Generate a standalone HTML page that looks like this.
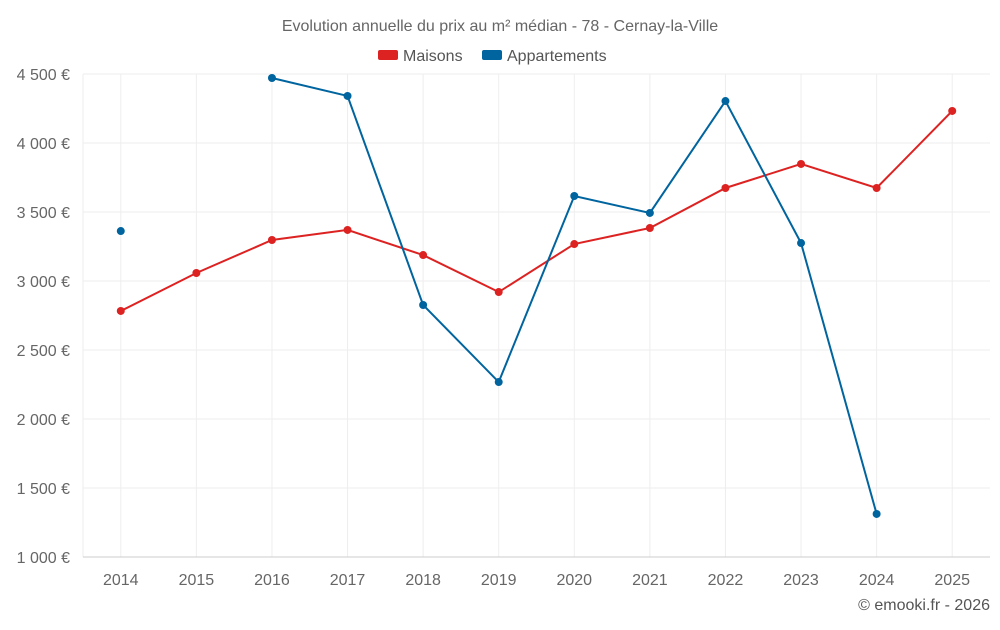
<!DOCTYPE html>
<html><head><meta charset="utf-8"><style>
body{margin:0;background:#fff;font-family:"Liberation Sans",sans-serif}
svg text{font-family:"Liberation Sans",sans-serif}
</style></head><body>
<svg id="c" width="1000" height="625">
<text x="500" y="31" text-anchor="middle" font-size="16" fill="#666">Evolution annuelle du prix au m² médian - 78 - Cernay-la-Ville</text>
<g><rect x="378" y="50" width="20" height="10" rx="2" fill="#dd2222"/><text x="403" y="61" font-size="16" fill="#555">Maisons</text></g>
<g><rect x="482" y="50" width="20" height="10" rx="2" fill="#00649f"/><text x="507" y="61" font-size="16" fill="#555">Appartements</text></g>
<text x="990" y="610" text-anchor="end" font-size="16" fill="#555">© emooki.fr - 2026</text>
<g id="g"></g>
</svg>
<script>
const years=["2014","2015","2016","2017","2018","2019","2020","2021","2022","2023","2024","2025"];
const maisons=[2783,3058,3297,3370,3188,2920,3268,3384,3674,3848,3674,4232];
const apparts=[3362,null,4471,4341,2826,2268,3616,3493,4304,3275,1312,null];
const yTicks=[1000,1500,2000,2500,3000,3500,4000,4500];
const L=83,R=990,T=74,B=557,yMin=1000,yMax=4500;
const step=(R-L)/years.length;
const xs=i=>L+step*(i+0.5);
const ys=v=>B-(v-yMin)/(yMax-yMin)*(B-T);
const g=document.getElementById('g');
const NS='http://www.w3.org/2000/svg';
function mk(t,a){const e=document.createElementNS(NS,t);for(const k in a)e.setAttribute(k,a[k]);g.appendChild(e);return e;}
const fmt=v=>String(v).replace(/\B(?=(\d{3})+$)/,' ')+' €';
const lv=mk('line',{x1:L,x2:L,y1:T,y2:B,stroke:'#eee'});


years.forEach((y,i)=>{
 const l=mk('line',{x1:xs(i),x2:xs(i),y1:T,y2:B,stroke:'#eee'});
 
 
});
yTicks.forEach(v=>{
 const l=mk('line',{x1:L,x2:R,y1:ys(v),y2:ys(v),stroke:v===yMin?'#ccc':'#eee'});
 
 
 const t=mk('text',{x:70,y:ys(v)+6,'text-anchor':'end','font-size':16,fill:'#666'});
 t.textContent=fmt(v);
 
 
});
years.forEach((y,i)=>{
 const t=mk('text',{x:xs(i),y:585,'text-anchor':'middle','font-size':16,fill:'#666'});
 t.textContent=y;
 
 
});
function series(data,color,name){
 let seg=[];const segs=[];
 data.forEach((v,i)=>{if(v==null){if(seg.length)segs.push(seg);seg=[];}else seg.push([xs(i),ys(v)]);});
 if(seg.length)segs.push(seg);
 segs.forEach(s=>{if(s.length>1){
  const p=mk('polyline',{points:s.map(p=>p.join(',')).join(' '),fill:'none',stroke:color,'stroke-width':2});
  
  
 }});
 data.forEach((v,i)=>{if(v==null)return;
  const c=mk('circle',{cx:xs(i),cy:ys(v),r:4,fill:color});
  
  
 });
}
series(maisons,'#dd2222','maisons');
series(apparts,'#00649f','appartements');
</script>
</body></html>
